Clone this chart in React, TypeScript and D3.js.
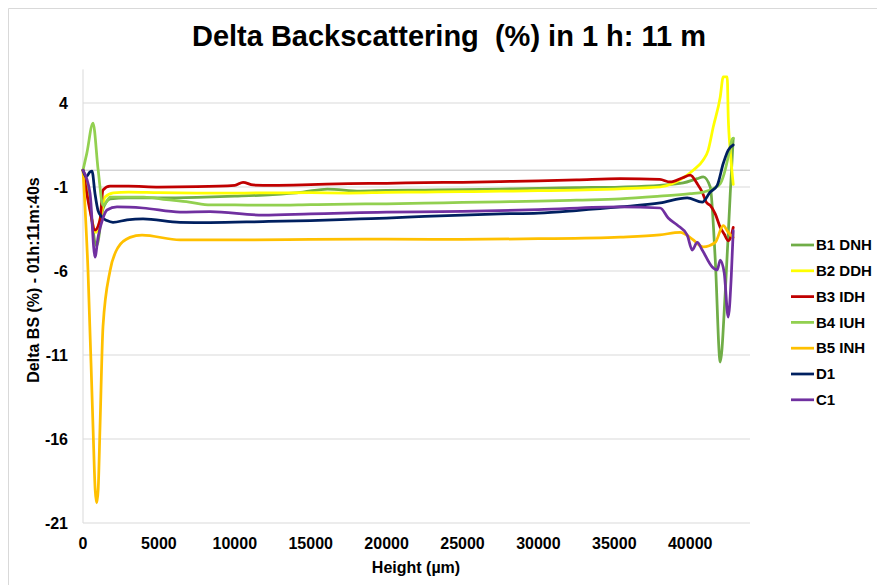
import React from "react";
import * as d3 from "d3";

const W = 877;
const H = 585;

const title = "Delta Backscattering  (%) in 1 h: 11 m";
const yTitle = "Delta BS (%) - 01h:11m:40s";
const xTitle = "Height (µm)";
const xTicks = [0, 5000, 10000, 15000, 20000, 25000, 30000, 35000, 40000];
const yTicks = [4, -1, -6, -11, -16, -21];

const seriesNames = ["B1 DNH", "B2 DDH", "B3 IDH", "B4 IUH", "B5 INH", "D1", "C1"];
const seriesColors = ["#70AD47", "#FFFF00", "#C00000", "#92D050", "#FFC000", "#002060", "#7030A0"];

// B1 DNH
const b1X = [0, 400, 900, 1318, 1800, 2900, 5000, 7500, 10000, 12500, 14500, 16100, 18250, 20000, 22500, 25000, 27500, 30000, 32500, 35388, 38000, 39540, 40463, 40858, 41320, 41650, 41979, 42309, 42638, 42836];
const b1Y = [0, -1.8, -4.5, -2.3, -1.7, -1.65, -1.65, -1.62, -1.55, -1.45, -1.3, -1.12, -1.24, -1.2, -1.18, -1.16, -1.12, -1.08, -1.04, -1.0, -0.9, -0.76, -0.5, -0.4, -1.0, -5.3, -11.42, -7.3, -1.4, 1.9];
// B2 DDH
const b2X = [0, 400, 850, 1200, 1450, 2000, 3000, 5000, 7500, 10000, 12500, 15000, 17500, 20000, 22500, 25000, 27500, 30000, 32500, 35000, 37000, 38024, 39540, 40200, 40858, 41188, 41518, 41979, 42177, 42440, 42506, 42638, 42836];
const b2Y = [0, -2.0, -3.7, -2.6, -1.6, -1.35, -1.3, -1.34, -1.36, -1.36, -1.35, -1.34, -1.36, -1.32, -1.3, -1.28, -1.25, -1.22, -1.18, -1.12, -1.05, -1.0, -0.46, 0.0, 0.61, 1.2, 2.57, 4.36, 5.55, 5.55, 3.17, 1.2, -0.85];
// B3 IDH
const b3X = [0, 461, 791, 1120, 1318, 1779, 3000, 5000, 7500, 10000, 10544, 11200, 12500, 15000, 17500, 20000, 22500, 25000, 27500, 30000, 32500, 35388, 38000, 38683, 39500, 40000, 40460, 40790, 41056, 41320, 41650, 41979, 42240, 42506, 42700, 42836];
const b3Y = [0, -2.4, -3.56, -2.96, -1.18, -0.95, -0.95, -1.0, -0.98, -0.9, -0.72, -0.88, -0.9, -0.86, -0.8, -0.78, -0.74, -0.72, -0.68, -0.64, -0.58, -0.5, -0.55, -0.7, -0.45, -0.3, -0.8, -1.3, -1.9, -2.1, -2.6, -3.4, -3.8, -4.2, -3.9, -3.4];
// B4 IUH
const b4X = [0, 250, 659, 1000, 1318, 1800, 2900, 4000, 5500, 7000, 8400, 10000, 12500, 15000, 17500, 20000, 22500, 25000, 27500, 30000, 32500, 35388, 38000, 40000, 40858, 41518, 41979, 42240, 42506, 42770, 42836];
const b4Y = [0, 1.0, 2.8, 0.0, -2.1, -1.6, -1.6, -1.6, -1.75, -1.9, -2.07, -2.07, -2.08, -2.05, -2.02, -2.0, -1.96, -1.92, -1.88, -1.84, -1.78, -1.71, -1.55, -1.4, -1.3, -1.1, -0.8, -0.2, 0.8, 1.86, 1.9];
// B5 INH
const b5X = [0, 330, 660, 800, 903, 1000, 1120, 1318, 1779, 2306, 3097, 3888, 6392, 10000, 15000, 20000, 25000, 30000, 35388, 38000, 39342, 40133, 40858, 41650, 42177, 42506, 42836];
const b5Y = [0, -6.0, -15.3, -19.0, -19.8, -19.0, -15.3, -9.3, -6.0, -4.6, -4.0, -3.86, -4.15, -4.15, -4.12, -4.1, -4.12, -4.08, -3.98, -3.85, -3.7, -4.1, -4.57, -4.3, -3.3, -3.7, -4.0];
// D1
const d1X = [0, 200, 461, 593, 791, 990, 1252, 1582, 1977, 2900, 3954, 6392, 8369, 11860, 15000, 18254, 20000, 22500, 25000, 27500, 30000, 32500, 35388, 38024, 39804, 40792, 41320, 41781, 42177, 42506, 42836];
const d1Y = [0, -0.4, -0.1, -0.05, -1.4, -2.4, -2.8, -3.0, -3.1, -2.96, -2.9, -3.1, -3.12, -3.06, -3.0, -2.9, -2.85, -2.75, -2.67, -2.6, -2.55, -2.4, -2.19, -1.95, -1.65, -1.9, -1.3, -0.9, 0.4, 1.2, 1.5];
// C1
const c1X = [0, 461, 791, 990, 1318, 1582, 2240, 3954, 6392, 8369, 11860, 15000, 18254, 20000, 25000, 30000, 35388, 38024, 38551, 39144, 39804, 40133, 40463, 40792, 41452, 41781, 41979, 42243, 42506, 42704, 42836];
const c1Y = [0, -1.36, -5.17, -4.0, -2.85, -2.37, -2.19, -2.25, -2.49, -2.47, -2.67, -2.6, -2.53, -2.5, -2.45, -2.35, -2.19, -2.25, -2.85, -3.26, -3.86, -4.75, -4.3, -4.75, -5.76, -5.94, -5.35, -6.12, -8.74, -6.36, -3.6];

const seriesX = [b1X, b2X, b3X, b4X, b5X, d1X, c1X];
const seriesY = [b1Y, b2Y, b3Y, b4Y, b5Y, d1Y, c1Y];

const plot = { left: 83, right: 750, top: 69.4, bottom: 523 };

export default function App() {
  const x = d3.scaleLinear().domain([0, 43940]).range([plot.left, plot.right]);
  const y = d3.scaleLinear().domain([-21, 6]).range([plot.bottom, plot.top]);
  const lineGen = d3
    .line<[number, number]>()
    .x((d) => x(d[0]))
    .y((d) => y(d[1]))
    .curve(d3.curveMonotoneX);

  const font = "'Liberation Sans', Arial, sans-serif";

  return (
    <svg
      width={W}
      height={H}
      style={{ position: "absolute", left: 0, top: 0, background: "#fff" }}
      fontFamily={font}
    >
      <rect x={0} y={0} width={W} height={H} fill="#fff" />
      <line x1={8.5} x2={W} y1={8.5} y2={8.5} stroke="#D9D9D9" strokeWidth={1} />
      <line x1={8.5} x2={8.5} y1={8.5} y2={H} stroke="#D9D9D9" strokeWidth={1} />
      <text
        x={449}
        y={46}
        textAnchor="middle"
        fontSize={29}
        fontWeight="bold"
        fill="#000"
        style={{ whiteSpace: "pre" }}
      >
        {title}
      </text>
      {yTicks.map((t) => (
        <line key={"g" + t} x1={plot.left} x2={plot.right} y1={y(t)} y2={y(t)} stroke="#D9D9D9" strokeWidth={1} />
      ))}
      <line x1={plot.left} x2={plot.right} y1={y(0)} y2={y(0)} stroke="#BFBFBF" strokeWidth={1} />
      <line x1={plot.left} x2={plot.left} y1={plot.top} y2={plot.bottom} stroke="#D9D9D9" strokeWidth={1} />
      {yTicks.map((t) => (
        <text key={"yt" + t} x={68} y={y(t)} dy="0.35em" textAnchor="end" fontSize={16} fontWeight="bold" fill="#000">
          {t}
        </text>
      ))}
      {xTicks.map((t) => (
        <text key={"xt" + t} x={x(t)} y={549} textAnchor="middle" fontSize={16} fontWeight="bold" fill="#000">
          {t}
        </text>
      ))}
      <text x={416} y={573} textAnchor="middle" fontSize={16} fontWeight="bold" fill="#000">
        {xTitle}
      </text>
      <text
        transform="translate(39,280) rotate(-90)"
        textAnchor="middle"
        fontSize={16}
        fontWeight="bold"
        fill="#000"
      >
        {yTitle}
      </text>
      {seriesNames.map((name, i) => {
        const pts = seriesX[i].map((v, j) => [v, seriesY[i][j]] as [number, number]);
        return (
          <path
            key={name}
            d={lineGen(pts) || ""}
            fill="none"
            stroke={seriesColors[i]}
            strokeWidth={2.75}
            strokeLinejoin="round"
            strokeLinecap="round"
          />
        );
      })}
      {seriesNames.map((name, i) => {
        const ly = 245 + i * 25.8;
        return (
          <g key={"l" + name}>
            <line x1={791} x2={814} y1={ly} y2={ly} stroke={seriesColors[i]} strokeWidth={2.75} />
            <text x={816} y={ly} dy="0.35em" fontSize={15} fontWeight="bold" fill="#000">
              {name}
            </text>
          </g>
        );
      })}
    </svg>
  );
}
